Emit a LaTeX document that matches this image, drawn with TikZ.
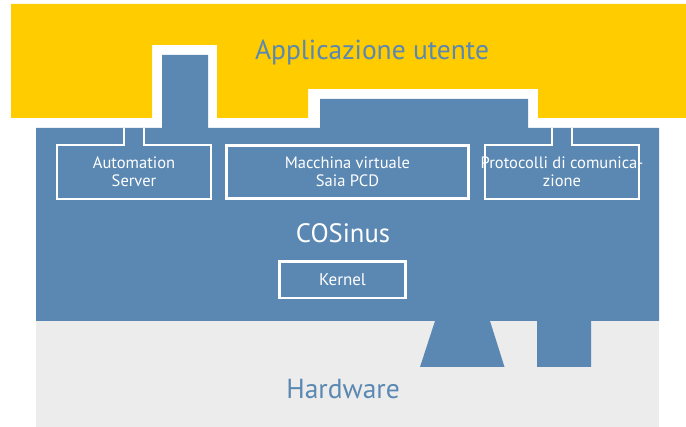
\documentclass[tikz,border=0pt]{standalone}
\usepackage{fontspec}
\setmainfont{PT Sans}
\usetikzlibrary{calc}
\definecolor{ylw}{HTML}{FFCC00}
\definecolor{blu}{HTML}{5A88B2}
\definecolor{gry}{HTML}{ECECEC}
\tikzset{
  wline/.style={draw=white, line width=2.6pt, line join=miter},
  boxtext/.style={text=white, font=\fontsize{16.5}{17.8}\selectfont, align=center, inner sep=0pt},
  frame/.style={wline, minimum width=#1, minimum height=53.4pt, inner sep=0pt},
  bigtext/.style={font=\fontsize{27.5}{30}\selectfont, inner sep=0pt, anchor=base},
}
\begin{document}
\begin{tikzpicture}[x=1pt,y=-1pt]
\useasboundingbox (0,0) rectangle (686,427);
% yellow application layer
\fill[ylw] (11,4) -- (686,4) -- (686,118) -- (538,118) -- (538,89) -- (308,89) -- (308,118)
  -- (217,118) -- (217,45) -- (152,45) -- (152,118) -- (11,118) -- cycle;
% hardware
\fill[gry] (36,321) rectangle (659,427);
% COSinus layer
\fill[blu] (36,128) -- (162,128) -- (162,55) -- (208,55) -- (208,128) -- (320,128) -- (320,99)
  -- (528,99) -- (528,128) -- (659,128) -- (659,321) -- (591,321) -- (591,367) -- (537,367)
  -- (537,321) -- (490,321) -- (504.5,367) -- (420,367) -- (435,321) -- (36,321) -- cycle;
% texts
\node[bigtext, text=blu] (app) at (372,59.3) {Applicazione utente};
\node[bigtext, text=white, font=\fontsize{26.6}{30}\selectfont] (cos) at (343,242.3) {COSinus};
\node[bigtext, text=blu] (hw) at (343,398.3) {Hardware};
% boxes
\node[minimum width=153.4pt, minimum height=53.4pt, inner sep=0pt] (auto) at (134,172) {};
\node[boxtext] at (auto.center) {Automation\\Server};
\node[frame=242.3pt] (vm) at (347.5,172) {};
\node[boxtext] at (vm.center) {Macchina virtuale\\Saia PCD};
\node[minimum width=153.4pt, minimum height=53.4pt, inner sep=0pt] (proto) at (562,172) {};
\node[boxtext] at (proto.center) {Protocolli di comunica-\\zione};
\node[wline, minimum width=125.7pt, minimum height=36.6pt, inner sep=0pt, text=white,
  font=\fontsize{17}{20}\selectfont] (kernel) at (342.5,279.7) {Kernel};
% tabs reaching the top of the layer
\coordinate (aL) at (124,128); \coordinate (aR) at (144,128);
\coordinate (pL) at (552,128); \coordinate (pR) at (572,128);
\draw[wline] (aL) -- (aL |- auto.north) -- (auto.north west) -- (auto.south west)
  -- (auto.south east) -- (auto.north east) -- (aR |- auto.north) -- (aR);
\draw[wline] (pL) -- (pL |- proto.north) -- (proto.north west) -- (proto.south west)
  -- (proto.south east) -- (proto.north east) -- (pR |- proto.north) -- (pR);
\end{tikzpicture}
\end{document}
